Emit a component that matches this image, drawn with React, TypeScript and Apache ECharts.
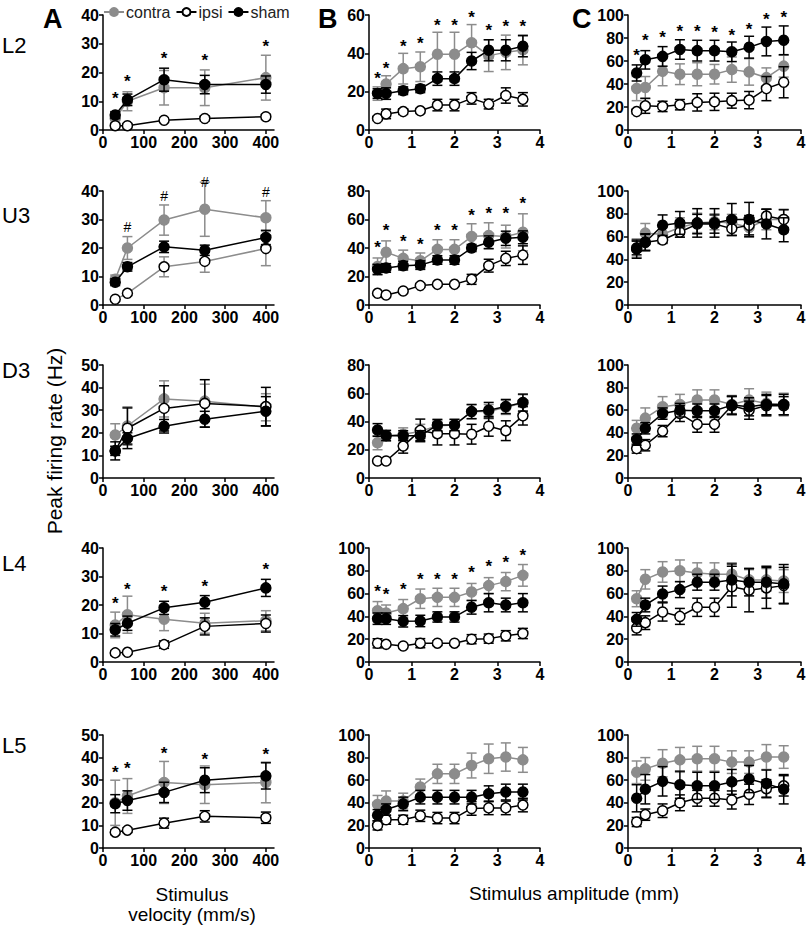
import React, { useEffect, useRef } from "react";
import * as echarts from "echarts";

// ---------- categories / ticks ----------
const velocities = [30, 60, 150, 250, 400];
const amplitudes = [0.2, 0.4, 0.8, 1.2, 1.6, 2.0, 2.4, 2.8, 3.2, 3.6];
const velocityTicks = [0, 100, 200, 300, 400];
const rowLabels = ["L2", "U3", "D3", "L4", "L5"];
const colLabels = ["A", "B", "C"];
const seriesNames = ["contra", "ipsi", "sham"];
const yMaxA = [40, 40, 50, 40, 50];
const yMaxB = [60, 80, 80, 100, 100];
const yMaxC = [100, 100, 100, 100, 100];

// ---------- L2 ----------
const L2A_contra = [4, 10, 14.7, 14.7, 18.2];
const L2A_contraSem = [1.5, 3.3, 6, 6.2, 7.8];
const L2A_ipsi = [1.5, 1.5, 3.4, 4, 4.6];
const L2A_ipsiSem = [0.5, 0.5, 0.7, 0.8, 0.8];
const L2A_sham = [5.2, 10.5, 17.5, 15.8, 15.8];
const L2A_shamSem = [1.2, 2, 4, 3.2, 3];
const L2A_marks = [12.2, 18.4, 26.4, 25.7, 30.6];

const L2B_contra = [19, 24, 32, 33, 39.5, 39.5, 45.5, 38.8, 40.5, 41.8];
const L2B_contraSem = [3.5, 4.3, 8, 7.7, 11.5, 11.5, 9.5, 8.3, 9, 7.8];
const L2B_ipsi = [6, 8.4, 9.6, 10, 13, 13, 16.5, 13.5, 18, 16];
const L2B_ipsiSem = [1, 2.5, 1.5, 1, 3, 3, 3, 2.5, 4, 3.5];
const L2B_sham = [19, 19, 20.5, 21.5, 26.8, 26.8, 36, 41.6, 41.6, 43.7];
const L2B_shamSem = [2.5, 3, 2, 2, 3.5, 3.5, 4.5, 5.5, 5.5, 5.5];
const L2B_marks = [29, 34, 45.5, 47, 56.5, 56.5, 61, 54, 56, 56];

const L2C_contra = [36, 37, 51, 48.5, 48.5, 48.5, 52.5, 50.5, 45.5, 55.5];
const L2C_contraSem = [10.5, 9.5, 12.5, 9, 10, 8.5, 11, 11.5, 8.5, 9.5];
const L2C_ipsi = [16, 21, 20.5, 22, 24, 24.5, 25.5, 26, 36, 41.5];
const L2C_ipsiSem = [2, 6.5, 4.5, 4.5, 7.5, 7.5, 6.5, 7.5, 10.5, 13.5];
const L2C_sham = [49.6, 61, 64, 70, 69, 69, 68, 72, 77, 78];
const L2C_shamSem = [7, 8, 8.5, 8.5, 9, 9, 8.5, 9.5, 12.5, 12.5];
const L2C_marks = [68, 81, 84, 89, 89, 88, 86, 91, 100, 101.5];

// ---------- U3 ----------
const U3A_contra = [9, 20, 29.8, 33.6, 30.6];
const U3A_contraSem = [1.5, 4, 5.3, 9.5, 6];
const U3A_ipsi = [2, 4.1, 13.4, 15.3, 19.8];
const U3A_ipsiSem = [0.6, 0.8, 3.5, 3.8, 6];
const U3A_sham = [8, 13.4, 20.4, 19.2, 23.7];
const U3A_shamSem = [1.2, 1.5, 2, 1.8, 2.5];
const U3A_marks = [null, 27.5, 38.4, 43.3, 39.8];

const U3B_contra = [27, 37, 32.7, 31, 39, 39, 48, 48.7, 48, 51];
const U3B_contraSem = [6, 8, 5.8, 5.5, 6.8, 6.8, 9, 9, 8, 13];
const U3B_ipsi = [8.2, 7, 9.8, 13.6, 14.5, 14.5, 18, 27.6, 32.7, 35];
const U3B_ipsiSem = [1, 1, 1, 1, 1, 1, 3.5, 4.5, 5, 6.5];
const U3B_sham = [25, 26, 27.6, 28, 31.6, 31.6, 40, 44, 46.8, 47.5];
const U3B_shamSem = [3.5, 3, 3, 3, 3, 3, 2.5, 4.5, 5, 4.5];
const U3B_marks = [43.3, 55, 47.3, 45.6, 55, 55, 65.5, 67, 67, 73.7];

const U3C_contra = [50, 63, 62, 68, 72, 73, 72, 68, 75, 75];
const U3C_contraSem = [8, 8.5, 7, 8.5, 8.5, 7, 7.5, 8.5, 9, 9];
const U3C_ipsi = [50, 55, 57, 64, 71, 71, 67, 70, 78, 75];
const U3C_ipsiSem = [6, 7.5, 3, 4.5, 8.5, 8, 6, 8.5, 6, 8.5];
const U3C_sham = [49, 55, 70, 72, 72, 72, 75, 75, 71, 66];
const U3C_shamSem = [8, 7, 9, 10, 12.5, 12.5, 14, 15, 13, 10.5];
const U3C_marks = [null, null, null, null, null, null, null, null, null, null];

// ---------- D3 ----------
const D3A_contra = [19, 23, 35, 34, 31.3];
const D3A_contraSem = [5, 8.5, 8, 7.5, 6];
const D3A_ipsi = [12, 22, 30.8, 33, 31.6];
const D3A_ipsiSem = [2, 9, 10, 10.5, 8.5];
const D3A_sham = [12, 17.5, 22.9, 26, 29.5];
const D3A_shamSem = [4, 2.5, 3, 3.5, 6.5];
const D3A_marks = [null, null, null, null, null];

const D3B_contra = [25, 30, 31, 33, 37, 37.5, 47, 47, 50, 53];
const D3B_contraSem = [5, 4, 4.5, 5, 4, 4, 5, 5, 5, 6];
const D3B_ipsi = [12, 12, 22.6, 33.7, 31.4, 31.4, 31, 36.6, 33.5, 44];
const D3B_ipsiSem = [1, 1, 5, 8, 8, 8, 7, 7, 7, 6.5];
const D3B_sham = [34, 30, 30, 30, 37.5, 37.5, 47, 48, 50.6, 53.4];
const D3B_shamSem = [4.5, 3.5, 3.5, 3.5, 4, 4, 5, 5.5, 5, 6];
const D3B_marks = [null, null, null, null, null, null, null, null, null, null];

const D3C_contra = [44, 53, 63, 65, 69, 69, 65, 69, 66, 65];
const D3C_contraSem = [7, 9, 9, 9, 9, 9, 8, 10, 10, 10];
const D3C_ipsi = [26, 29, 41.5, 57, 47.5, 47.5, 64, 60, 64, 64];
const D3C_ipsiSem = [4, 5, 5, 7, 7, 7, 8, 8, 9, 8];
const D3C_sham = [34, 44, 57, 60, 59.5, 59.5, 64.5, 63, 65, 65];
const D3C_shamSem = [5, 5, 5, 6, 6, 6, 8, 8, 9, 9];
const D3C_marks = [null, null, null, null, null, null, null, null, null, null];

// ---------- L4 ----------
const L4A_contra = [13, 16.6, 15, 13.6, 14.5];
const L4A_contraSem = [4.5, 6.5, 4, 3.5, 3.5];
const L4A_ipsi = [3.2, 3.4, 6.1, 12.5, 13.5];
const L4A_ipsiSem = [0.6, 0.6, 1.3, 3, 3];
const L4A_sham = [11.3, 13.6, 19, 21, 26];
const L4A_shamSem = [2.2, 2.5, 2.3, 2.3, 3];
const L4A_marks = [21.9, 27, 26, 28, 33.8];

const L4B_contra = [45, 43, 46.8, 55.5, 56.7, 56.7, 61.4, 67, 70.5, 76];
const L4B_contraSem = [8, 7, 8, 8.5, 8, 8, 7.5, 7, 8, 9.5];
const L4B_ipsi = [16.4, 15.5, 14, 16.5, 16.5, 16.5, 20, 20.5, 23, 25];
const L4B_ipsiSem = [4, 1, 1, 4, 2, 1.5, 4, 4, 4.5, 4.5];
const L4B_sham = [38, 38, 35.7, 36, 39.5, 39.5, 48, 52, 50, 52];
const L4B_shamSem = [5, 5, 5, 5, 4.5, 4.5, 6, 8, 6, 8];
const L4B_marks = [65, 62.6, 67, 75.7, 75.7, 75.7, 82, 87, 91, 97];

const L4C_contra = [55.5, 72.5, 79, 80, 78, 77, 77, 72, 72, 71];
const L4C_contraSem = [7, 8.5, 9, 9.5, 9, 10, 10, 9, 10, 10];
const L4C_ipsi = [29.8, 34.5, 43.9, 40, 48, 48, 66, 63, 65, 67];
const L4C_ipsiSem = [6, 6, 8, 7, 8, 8, 18, 19, 18, 16];
const L4C_sham = [37.4, 50, 59.6, 63.5, 70, 70, 72, 70, 70, 68.5];
const L4C_shamSem = [6, 6, 7, 7, 7, 7, 14, 12, 14, 17];
const L4C_marks = [null, null, null, null, null, null, null, null, null, null];

// ---------- L5 ----------
const L5A_contra = [20, 23, 29, 28, 29];
const L5A_contraSem = [10, 7.7, 9.3, 8.3, 9];
const L5A_ipsi = [7, 7.9, 11, 14, 13.4];
const L5A_ipsiSem = [1, 1, 2.2, 2.5, 2.5];
const L5A_sham = [19.6, 21, 24.6, 30, 31.9];
const L5A_shamSem = [4, 4.3, 4.5, 5.5, 5.8];
const L5A_marks = [35.3, 36.8, 43.4, 41, 43];

const L5B_contra = [38.5, 41.5, 41.5, 54, 65.6, 65.6, 73, 79, 80.5, 78];
const L5B_contraSem = [8, 9, 7, 7, 8.5, 8.5, 11, 13, 12.5, 11];
const L5B_ipsi = [20, 25, 25, 28.5, 26.5, 26.5, 35, 35.5, 35.5, 38];
const L5B_ipsiSem = [4, 4, 4, 5, 5, 5, 6, 6, 6, 6];
const L5B_sham = [29, 34, 39, 45, 45, 45, 45, 48, 49.5, 49.5];
const L5B_shamSem = [5, 5, 6, 6, 6, 6, 6, 7, 7, 7];
const L5B_marks = [null, null, null, null, null, null, null, null, null, null];

const L5C_contra = [67, 70, 75, 78, 79, 79, 76, 76, 80.5, 80.5];
const L5C_contraSem = [10, 10, 12, 11, 11, 11, 10, 10, 11, 10];
const L5C_ipsi = [23, 29.5, 33, 40, 44, 44, 42.5, 47.5, 52.5, 55];
const L5C_ipsiSem = [4, 5, 6, 7, 7, 7, 8, 9, 8, 9];
const L5C_sham = [44, 52, 59, 56, 55, 55, 58.5, 61, 57, 52];
const L5C_shamSem = [12, 13, 13, 12, 12, 12, 11, 12, 12, 13];
const L5C_marks = [null, null, null, null, null, null, null, null, null, null];

// ---------- panel table (built from the arrays above) ----------
type Panel = {
  row: number;
  col: number;
  yMax: number;
  means: number[][];
  sems: number[][];
  marks: (number | null)[];
  markChar: string;
};

const P = (
  row: number,
  col: number,
  yMax: number,
  c: number[], cs: number[], i: number[], is: number[], s: number[], ss: number[],
  marks: (number | null)[], markChar = "*"
): Panel => ({ row, col, yMax, means: [c, i, s], sems: [cs, is, ss], marks, markChar });

const panels: Panel[] = [
  P(0, 0, yMaxA[0], L2A_contra, L2A_contraSem, L2A_ipsi, L2A_ipsiSem, L2A_sham, L2A_shamSem, L2A_marks),
  P(0, 1, yMaxB[0], L2B_contra, L2B_contraSem, L2B_ipsi, L2B_ipsiSem, L2B_sham, L2B_shamSem, L2B_marks),
  P(0, 2, yMaxC[0], L2C_contra, L2C_contraSem, L2C_ipsi, L2C_ipsiSem, L2C_sham, L2C_shamSem, L2C_marks),
  P(1, 0, yMaxA[1], U3A_contra, U3A_contraSem, U3A_ipsi, U3A_ipsiSem, U3A_sham, U3A_shamSem, U3A_marks, "#"),
  P(1, 1, yMaxB[1], U3B_contra, U3B_contraSem, U3B_ipsi, U3B_ipsiSem, U3B_sham, U3B_shamSem, U3B_marks),
  P(1, 2, yMaxC[1], U3C_contra, U3C_contraSem, U3C_ipsi, U3C_ipsiSem, U3C_sham, U3C_shamSem, U3C_marks),
  P(2, 0, yMaxA[2], D3A_contra, D3A_contraSem, D3A_ipsi, D3A_ipsiSem, D3A_sham, D3A_shamSem, D3A_marks),
  P(2, 1, yMaxB[2], D3B_contra, D3B_contraSem, D3B_ipsi, D3B_ipsiSem, D3B_sham, D3B_shamSem, D3B_marks),
  P(2, 2, yMaxC[2], D3C_contra, D3C_contraSem, D3C_ipsi, D3C_ipsiSem, D3C_sham, D3C_shamSem, D3C_marks),
  P(3, 0, yMaxA[3], L4A_contra, L4A_contraSem, L4A_ipsi, L4A_ipsiSem, L4A_sham, L4A_shamSem, L4A_marks),
  P(3, 1, yMaxB[3], L4B_contra, L4B_contraSem, L4B_ipsi, L4B_ipsiSem, L4B_sham, L4B_shamSem, L4B_marks),
  P(3, 2, yMaxC[3], L4C_contra, L4C_contraSem, L4C_ipsi, L4C_ipsiSem, L4C_sham, L4C_shamSem, L4C_marks),
  P(4, 0, yMaxA[4], L5A_contra, L5A_contraSem, L5A_ipsi, L5A_ipsiSem, L5A_sham, L5A_shamSem, L5A_marks),
  P(4, 1, yMaxB[4], L5B_contra, L5B_contraSem, L5B_ipsi, L5B_ipsiSem, L5B_sham, L5B_shamSem, L5B_marks),
  P(4, 2, yMaxC[4], L5C_contra, L5C_contraSem, L5C_ipsi, L5C_ipsiSem, L5C_sham, L5C_shamSem, L5C_marks),
];

// ---------- layout & style ----------
const colLeft = [103, 369, 628];
const colWidth = [171, 171, 173];
const rowTop = [15, 191, 365, 548, 735];
const rowBottom = [130, 305, 478, 662, 848];
const rowLabelY = [45, 215, 370, 563, 745];
const GRAY = "#8c8c8c";
const NARROW = "'Liberation Sans Narrow', 'Arial Narrow', 'Liberation Sans', Arial, sans-serif";
const SANS = "'Liberation Sans', Arial, Helvetica, sans-serif";
const groupStyle = [
  { fill: GRAY, stroke: GRAY, line: GRAY, err: GRAY },
  { fill: "#ffffff", stroke: "#000000", line: "#000000", err: "#000000" },
  { fill: "#000000", stroke: "#000000", line: "#000000", err: "#000000" },
];

function buildOption() {
  const grid: any[] = [];
  const xAxis: any[] = [];
  const yAxis: any[] = [];
  const series: any[] = [];

  panels.forEach((p, gi) => {
    const xs = p.col === 0 ? velocities : amplitudes;
    grid.push({
      left: colLeft[p.col],
      top: rowTop[p.row],
      width: colWidth[p.col],
      height: rowBottom[p.row] - rowTop[p.row],
      containLabel: false,
    });
    const axisCommon = {
      axisLine: { show: true, onZero: false, lineStyle: { color: "#000", width: 1.5 } },
      axisTick: { show: true, length: 4, lineStyle: { color: "#000", width: 1.5 } },
      splitLine: { show: false },
      axisLabel: { color: "#000", fontWeight: "bold", fontSize: 16, fontFamily: NARROW, margin: 4 },
    };
    if (p.col === 0) {
      xAxis.push({
        ...axisCommon,
        type: "value",
        gridIndex: gi,
        min: 0,
        max: 420,
        interval: 100,
        axisTick: { ...axisCommon.axisTick, customValues: velocityTicks },
        axisLabel: { ...axisCommon.axisLabel, customValues: velocityTicks },
      });
    } else {
      xAxis.push({ ...axisCommon, type: "value", gridIndex: gi, min: 0, max: 4, interval: 1 });
    }
    yAxis.push({
      ...axisCommon,
      type: "value",
      gridIndex: gi,
      min: 0,
      max: p.yMax,
      interval: p.col === 0 ? 10 : 20,
    });

    [0, 1, 2].forEach((g) => {
      const st = groupStyle[g];
      const mean = p.means[g];
      const sem = p.sems[g];
      const errColor = gi === 3 && g === 1 ? GRAY : st.err;
      series.push({
        type: "custom",
        name: seriesNames[g] + "-sem",
        xAxisIndex: gi,
        yAxisIndex: gi,
        z: 2 + g * 2,
        silent: true,
        encode: { x: 0, y: [1, 2] },
        data: xs.map((x, k) => [x, mean[k] - sem[k], mean[k] + sem[k]]),
        renderItem: (_params: any, api: any) => {
          const x = api.value(0);
          const lo = api.coord([x, api.value(1)]);
          const hi = api.coord([x, api.value(2)]);
          const w = 5;
          const style = { stroke: errColor, lineWidth: 1.5 };
          return {
            type: "group",
            children: [
              { type: "line", shape: { x1: lo[0], y1: lo[1], x2: hi[0], y2: hi[1] }, style },
              { type: "line", shape: { x1: lo[0] - w, y1: lo[1], x2: lo[0] + w, y2: lo[1] }, style },
              { type: "line", shape: { x1: hi[0] - w, y1: hi[1], x2: hi[0] + w, y2: hi[1] }, style },
            ],
          };
        },
      });
      series.push({
        type: "line",
        name: seriesNames[g],
        xAxisIndex: gi,
        yAxisIndex: gi,
        z: 3 + g * 2,
        symbol: "circle",
        symbolSize: 10,
        showSymbol: true,
        clip: false,
        lineStyle: { color: gi === 3 && g === 1 ? GRAY : st.line, width: 1.5 },
        itemStyle: { color: st.fill, borderColor: st.stroke, borderWidth: 1.5 },
        data: xs.map((x, k) => [x, mean[k]]),
      });
    });

    const markData = xs
      .map((x, k) => (p.marks[k] == null ? null : [x, p.marks[k]]))
      .filter((d) => d !== null);
    if (markData.length) {
      const ch = p.markChar;
      series.push({
        type: "custom",
        name: "marks",
        xAxisIndex: gi,
        yAxisIndex: gi,
        z: 10,
        silent: true,
        data: markData,
        renderItem: (_params: any, api: any) => {
          const pt = api.coord([api.value(0), api.value(1)]);
          const isStar = ch === "*";
          return {
            type: "text",
            x: pt[0],
            y: pt[1] + (isStar ? 4 : 0),
            style: {
              text: ch,
              fill: "#000",
              font: (isStar ? "bold 17px " : "14px ") + SANS,
              textAlign: "center",
              textVerticalAlign: "middle",
              align: "center",
              verticalAlign: "middle",
            },
          };
        },
      });
    }
  });

  const graphic: any[] = [];
  colLabels.forEach((t, c) => {
    graphic.push({
      type: "text",
      left: [43, 318, 572][c],
      top: 5,
      style: { text: t, font: "bold 27px " + SANS, fill: "#000" },
    });
  });
  rowLabels.forEach((t, r) => {
    graphic.push({
      type: "text",
      x: 2,
      y: rowLabelY[r],
      style: { text: t, font: "22px " + SANS, fill: "#000", textAlign: "left", textVerticalAlign: "middle" },
    });
  });
  graphic.push({
    type: "text",
    x: 54,
    y: 441,
    rotation: Math.PI / 2,
    style: {
      text: "Peak firing rate (Hz)",
      font: "21px " + SANS,
      fill: "#000",
      textAlign: "center",
      textVerticalAlign: "middle",
    },
  });
  graphic.push({
    type: "text",
    x: 192,
    y: 894,
    style: { text: "Stimulus", font: "19px " + SANS, fill: "#000", textAlign: "center", textVerticalAlign: "middle" },
  });
  graphic.push({
    type: "text",
    x: 192,
    y: 914,
    style: { text: "velocity (mm/s)", font: "19px " + SANS, fill: "#000", textAlign: "center", textVerticalAlign: "middle" },
  });
  graphic.push({
    type: "text",
    x: 574,
    y: 893,
    style: { text: "Stimulus amplitude (mm)", font: "19px " + SANS, fill: "#000", textAlign: "center", textVerticalAlign: "middle" },
  });

  return {
    animation: false,
    backgroundColor: "#ffffff",
    legend: {
      data: seriesNames,
      left: 103,
      top: 4,
      padding: 0,
      itemWidth: 20,
      itemHeight: 10,
      itemGap: 5,
      selectedMode: false,
      textStyle: { fontSize: 16, fontFamily: NARROW, color: "#222", padding: [0, 0, 0, -3] },
    },
    grid,
    xAxis,
    yAxis,
    series,
    graphic,
  };
}

export default function App() {
  const ref = useRef<HTMLDivElement>(null);
  useEffect(() => {
    if (!ref.current) return;
    const chart = echarts.init(ref.current, undefined, { renderer: "svg" });
    chart.setOption(buildOption() as any);
    return () => chart.dispose();
  }, []);
  return (
    <div
      ref={ref}
      style={{ position: "absolute", left: 0, top: 0, width: 812, height: 927, background: "#fff" }}
    />
  );
}
